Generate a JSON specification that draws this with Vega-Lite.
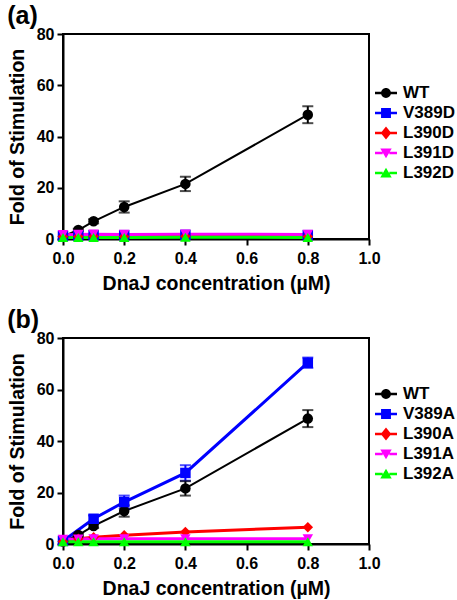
{
  "$schema": "https://vega.github.io/schema/vega-lite/v6.json",
  "background": "white",
  "padding": {"left": 6, "top": 3, "right": 0, "bottom": 0},
  "config": {
    "font": "Liberation Sans",
    "view": {"stroke": "black", "strokeWidth": 2},
    "axis": {
      "grid": false,
      "domainColor": "black", "domainWidth": 2,
      "tickColor": "black", "tickWidth": 2, "tickSize": 6,
      "labelFont": "Liberation Sans", "labelFontSize": 16, "labelFontWeight": "bold", "labelColor": "black", "labelPadding": 3, "labelFlush": false,
      "titleFont": "Liberation Sans", "titleFontSize": 19.5, "titleFontWeight": "bold", "titleColor": "black"
    },
    "axisX": {"labelPadding": 5, "titlePadding": 8},
    "legend": {
      "labelFont": "Liberation Sans", "labelFontSize": 17, "labelFontWeight": "bold", "labelColor": "black",
      "labelOffset": 6, "rowPadding": 1, "padding": 0, "symbolSize": 484, "symbolStrokeWidth": 0, "symbolOpacity": 1
    },
    "title": {"font": "Liberation Sans", "fontSize": 25, "fontWeight": "bold", "color": "black", "anchor": "start", "frame": "bounds"}
  },
  "datasets": {
    "a": [
      {"s": "WT", "x": 0, "y": 1.0},
      {"s": "WT", "x": 0.05, "y": 3.5, "lo": 3.0, "hi": 4.0},
      {"s": "WT", "x": 0.1, "y": 6.9, "lo": 6.1, "hi": 7.7},
      {"s": "WT", "x": 0.2, "y": 12.5, "lo": 10.3, "hi": 14.7},
      {"s": "WT", "x": 0.4, "y": 21.5, "lo": 18.7, "hi": 24.3},
      {"s": "WT", "x": 0.8, "y": 48.5, "lo": 45.2, "hi": 51.8},
      {"s": "V389D", "x": 0, "y": 1.2},
      {"s": "V389D", "x": 0.05, "y": 1.4},
      {"s": "V389D", "x": 0.1, "y": 1.5},
      {"s": "V389D", "x": 0.2, "y": 1.5},
      {"s": "V389D", "x": 0.4, "y": 1.6},
      {"s": "V389D", "x": 0.8, "y": 1.5},
      {"s": "L390D", "x": 0, "y": 1.0},
      {"s": "L390D", "x": 0.05, "y": 1.0},
      {"s": "L390D", "x": 0.1, "y": 1.1},
      {"s": "L390D", "x": 0.2, "y": 1.0},
      {"s": "L390D", "x": 0.4, "y": 1.1},
      {"s": "L390D", "x": 0.8, "y": 1.0},
      {"s": "L391D", "x": 0, "y": 1.7},
      {"s": "L391D", "x": 0.05, "y": 1.8},
      {"s": "L391D", "x": 0.1, "y": 1.9},
      {"s": "L391D", "x": 0.2, "y": 1.8},
      {"s": "L391D", "x": 0.4, "y": 1.9},
      {"s": "L391D", "x": 0.8, "y": 1.8},
      {"s": "L392D", "x": 0, "y": 0.6},
      {"s": "L392D", "x": 0.05, "y": 0.6},
      {"s": "L392D", "x": 0.1, "y": 0.6},
      {"s": "L392D", "x": 0.2, "y": 0.6},
      {"s": "L392D", "x": 0.4, "y": 0.7},
      {"s": "L392D", "x": 0.8, "y": 0.6}
    ],
    "b": [
      {"s": "WT", "x": 0, "y": 1.0},
      {"s": "WT", "x": 0.05, "y": 3.5, "lo": 3.0, "hi": 4.0},
      {"s": "WT", "x": 0.1, "y": 7.0, "lo": 6.2, "hi": 7.8},
      {"s": "WT", "x": 0.2, "y": 12.8, "lo": 10.6, "hi": 15.0},
      {"s": "WT", "x": 0.4, "y": 21.6, "lo": 18.8, "hi": 24.4},
      {"s": "WT", "x": 0.8, "y": 48.7, "lo": 45.4, "hi": 52.0},
      {"s": "V389A", "x": 0, "y": 1.2},
      {"s": "V389A", "x": 0.1, "y": 9.8, "lo": 8.5, "hi": 11.1},
      {"s": "V389A", "x": 0.2, "y": 16.3, "lo": 13.8, "hi": 18.8},
      {"s": "V389A", "x": 0.4, "y": 27.6, "lo": 24.6, "hi": 30.6},
      {"s": "V389A", "x": 0.8, "y": 70.4, "lo": 68.4, "hi": 72.4},
      {"s": "L390A", "x": 0, "y": 1.0},
      {"s": "L390A", "x": 0.05, "y": 2.0},
      {"s": "L390A", "x": 0.1, "y": 2.6},
      {"s": "L390A", "x": 0.2, "y": 3.4},
      {"s": "L390A", "x": 0.4, "y": 4.7},
      {"s": "L390A", "x": 0.8, "y": 6.5},
      {"s": "L391A", "x": 0, "y": 1.8},
      {"s": "L391A", "x": 0.05, "y": 1.9},
      {"s": "L391A", "x": 0.1, "y": 2.0},
      {"s": "L391A", "x": 0.2, "y": 2.0},
      {"s": "L391A", "x": 0.4, "y": 2.0},
      {"s": "L391A", "x": 0.8, "y": 2.0},
      {"s": "L392A", "x": 0, "y": 0.9},
      {"s": "L392A", "x": 0.05, "y": 0.9},
      {"s": "L392A", "x": 0.1, "y": 0.9},
      {"s": "L392A", "x": 0.2, "y": 0.9},
      {"s": "L392A", "x": 0.4, "y": 0.9},
      {"s": "L392A", "x": 0.8, "y": 0.9}
    ]
  },
  "spacing": 13,
  "resolve": {
    "scale": {"color": "independent", "shape": "independent"},
    "legend": {"color": "independent", "shape": "independent"}
  },
  "vconcat": [
    {
      "title": {"text": "(a)", "offset": -3},
      "width": 306, "height": 205,
      "data": {"name": "a"},
      "encoding": {
        "x": {"field": "x", "type": "quantitative", "scale": {"domain": [0, 1], "nice": false}, "axis": {"values": [0, 0.2, 0.4, 0.6, 0.8, 1.0], "format": ".1f", "title": "DnaJ concentration (µM)"}},
        "y": {"field": "y", "type": "quantitative", "scale": {"domain": [0, 80]}, "axis": {"values": [0, 20, 40, 60, 80], "title": "Fold of Stimulation", "titlePadding": 9}}
      },
      "layer": [
        {
          "mark": {"type": "line"},
          "encoding": {
            "detail": {"field": "s", "type": "nominal"},
            "color": {"condition": [
              {"test": "datum.s === 'WT'", "value": "#000000"},
              {"test": "indexof(datum.s, '389') >= 0", "value": "#0000ff"},
              {"test": "indexof(datum.s, '390') >= 0", "value": "#ff0000"},
              {"test": "indexof(datum.s, '391') >= 0", "value": "#ff00ff"}
            ], "value": "#00ff00"},
            "strokeWidth": {"condition": {"test": "datum.s === 'WT'", "value": 2}, "value": 3}
          }
        },
        {
          "transform": [{"filter": "isValid(datum.lo)"}],
          "mark": {"type": "rule", "strokeWidth": 2},
          "encoding": {
            "y": {"field": "lo", "type": "quantitative"},
            "y2": {"field": "hi"},
            "color": {"condition": {"test": "datum.s === 'WT'", "value": "#000000"}, "value": "#0000ff"}
          }
        },
        {
          "transform": [{"filter": "isValid(datum.lo)"}],
          "mark": {"type": "tick", "thickness": 2, "size": 11, "orient": "horizontal"},
          "encoding": {
            "y": {"field": "lo", "type": "quantitative"},
            "color": {"condition": {"test": "datum.s === 'WT'", "value": "#000000"}, "value": "#0000ff"}
          }
        },
        {
          "transform": [{"filter": "isValid(datum.lo)"}],
          "mark": {"type": "tick", "thickness": 2, "size": 11, "orient": "horizontal"},
          "encoding": {
            "y": {"field": "hi", "type": "quantitative"},
            "color": {"condition": {"test": "datum.s === 'WT'", "value": "#000000"}, "value": "#0000ff"}
          }
        },
        {
          "mark": {"type": "point", "filled": true, "opacity": 1, "size": 110},
          "encoding": {
            "color": {"condition": [
              {"test": "datum.s === 'WT'", "value": "#000000"},
              {"test": "indexof(datum.s, '389') >= 0", "value": "#0000ff"},
              {"test": "indexof(datum.s, '390') >= 0", "value": "#ff0000"},
              {"test": "indexof(datum.s, '391') >= 0", "value": "#ff00ff"}
            ], "value": "#00ff00"},
            "shape": {
              "condition": [
                {"test": "datum.s === 'WT'", "value": "circle"},
                {"test": "indexof(datum.s, '389') >= 0", "value": "square"},
                {"test": "indexof(datum.s, '390') >= 0", "value": "diamond"},
                {"test": "indexof(datum.s, '391') >= 0", "value": "triangle-down"}
              ],
              "value": "triangle-up"
            }
          }
        },
        {
          "transform": [{"filter": "datum.x > 5"}],
          "mark": {"type": "point", "filled": true, "opacity": 1, "size": 484},
          "encoding": {
            "color": {"field": "s", "type": "nominal", "legend": {"title": null, "orient": "none", "legendX": 312, "legendY": 48}, "scale": {"domain": ["WT", "V389D", "L390D", "L391D", "L392D"], "range": ["#000000", "#0000ff", "#ff0000", "#ff00ff", "#00ff00"]}},
            "shape": {"field": "s", "type": "nominal", "legend": {"title": null, "orient": "none", "legendX": 312, "legendY": 48}, "scale": {"domain": ["WT", "V389D", "L390D", "L391D", "L392D"], "range": [
              "M-1,-0.11L-0.3,-0.11L-0.3,0.11L-1,0.11ZM0.3,-0.11L1,-0.11L1,0.11L0.3,0.11ZM-0.45,0A0.45,0.45,0,1,1,0.45,0A0.45,0.45,0,1,1,-0.45,0Z",
              "M-1,-0.11L-0.3,-0.11L-0.3,0.11L-1,0.11ZM0.3,-0.11L1,-0.11L1,0.11L0.3,0.11ZM-0.45,-0.45L0.45,-0.45L0.45,0.45L-0.45,0.45Z",
              "M-1,-0.11L-0.3,-0.11L-0.3,0.11L-1,0.11ZM0.3,-0.11L1,-0.11L1,0.11L0.3,0.11ZM0,-0.58L0.48,0L0,0.58L-0.48,0Z",
              "M-1,-0.11L-0.3,-0.11L-0.3,0.11L-1,0.11ZM0.3,-0.11L1,-0.11L1,0.11L0.3,0.11ZM-0.52,-0.42L0.52,-0.42L0,0.48Z",
              "M-1,-0.11L-0.3,-0.11L-0.3,0.11L-1,0.11ZM0.3,-0.11L1,-0.11L1,0.11L0.3,0.11ZM0,-0.48L0.52,0.42L-0.52,0.42Z"
            ]}}
          }
        }
      ]
    },
    {
      "title": {"text": "(b)", "offset": -3},
      "width": 306, "height": 206,
      "data": {"name": "b"},
      "encoding": {
        "x": {"field": "x", "type": "quantitative", "scale": {"domain": [0, 1], "nice": false}, "axis": {"values": [0, 0.2, 0.4, 0.6, 0.8, 1.0], "format": ".1f", "title": "DnaJ concentration (µM)"}},
        "y": {"field": "y", "type": "quantitative", "scale": {"domain": [0, 80]}, "axis": {"values": [0, 20, 40, 60, 80], "title": "Fold of Stimulation", "titlePadding": 9}}
      },
      "layer": [
        {
          "mark": {"type": "line"},
          "encoding": {
            "detail": {"field": "s", "type": "nominal"},
            "color": {"condition": [
              {"test": "datum.s === 'WT'", "value": "#000000"},
              {"test": "indexof(datum.s, '389') >= 0", "value": "#0000ff"},
              {"test": "indexof(datum.s, '390') >= 0", "value": "#ff0000"},
              {"test": "indexof(datum.s, '391') >= 0", "value": "#ff00ff"}
            ], "value": "#00ff00"},
            "strokeWidth": {"condition": {"test": "datum.s === 'WT'", "value": 2}, "value": 3}
          }
        },
        {
          "transform": [{"filter": "isValid(datum.lo)"}],
          "mark": {"type": "rule", "strokeWidth": 2},
          "encoding": {
            "y": {"field": "lo", "type": "quantitative"},
            "y2": {"field": "hi"},
            "color": {"condition": {"test": "datum.s === 'WT'", "value": "#000000"}, "value": "#0000ff"}
          }
        },
        {
          "transform": [{"filter": "isValid(datum.lo)"}],
          "mark": {"type": "tick", "thickness": 2, "size": 11, "orient": "horizontal"},
          "encoding": {
            "y": {"field": "lo", "type": "quantitative"},
            "color": {"condition": {"test": "datum.s === 'WT'", "value": "#000000"}, "value": "#0000ff"}
          }
        },
        {
          "transform": [{"filter": "isValid(datum.lo)"}],
          "mark": {"type": "tick", "thickness": 2, "size": 11, "orient": "horizontal"},
          "encoding": {
            "y": {"field": "hi", "type": "quantitative"},
            "color": {"condition": {"test": "datum.s === 'WT'", "value": "#000000"}, "value": "#0000ff"}
          }
        },
        {
          "mark": {"type": "point", "filled": true, "opacity": 1, "size": 110},
          "encoding": {
            "color": {"condition": [
              {"test": "datum.s === 'WT'", "value": "#000000"},
              {"test": "indexof(datum.s, '389') >= 0", "value": "#0000ff"},
              {"test": "indexof(datum.s, '390') >= 0", "value": "#ff0000"},
              {"test": "indexof(datum.s, '391') >= 0", "value": "#ff00ff"}
            ], "value": "#00ff00"},
            "shape": {
              "condition": [
                {"test": "datum.s === 'WT'", "value": "circle"},
                {"test": "indexof(datum.s, '389') >= 0", "value": "square"},
                {"test": "indexof(datum.s, '390') >= 0", "value": "diamond"},
                {"test": "indexof(datum.s, '391') >= 0", "value": "triangle-down"}
              ],
              "value": "triangle-up"
            }
          }
        },
        {
          "transform": [{"filter": "datum.x > 5"}],
          "mark": {"type": "point", "filled": true, "opacity": 1, "size": 484},
          "encoding": {
            "color": {"field": "s", "type": "nominal", "legend": {"title": null, "orient": "none", "legendX": 312, "legendY": 45}, "scale": {"domain": ["WT", "V389A", "L390A", "L391A", "L392A"], "range": ["#000000", "#0000ff", "#ff0000", "#ff00ff", "#00ff00"]}},
            "shape": {"field": "s", "type": "nominal", "legend": {"title": null, "orient": "none", "legendX": 312, "legendY": 45}, "scale": {"domain": ["WT", "V389A", "L390A", "L391A", "L392A"], "range": [
              "M-1,-0.11L-0.3,-0.11L-0.3,0.11L-1,0.11ZM0.3,-0.11L1,-0.11L1,0.11L0.3,0.11ZM-0.45,0A0.45,0.45,0,1,1,0.45,0A0.45,0.45,0,1,1,-0.45,0Z",
              "M-1,-0.11L-0.3,-0.11L-0.3,0.11L-1,0.11ZM0.3,-0.11L1,-0.11L1,0.11L0.3,0.11ZM-0.45,-0.45L0.45,-0.45L0.45,0.45L-0.45,0.45Z",
              "M-1,-0.11L-0.3,-0.11L-0.3,0.11L-1,0.11ZM0.3,-0.11L1,-0.11L1,0.11L0.3,0.11ZM0,-0.58L0.48,0L0,0.58L-0.48,0Z",
              "M-1,-0.11L-0.3,-0.11L-0.3,0.11L-1,0.11ZM0.3,-0.11L1,-0.11L1,0.11L0.3,0.11ZM-0.52,-0.42L0.52,-0.42L0,0.48Z",
              "M-1,-0.11L-0.3,-0.11L-0.3,0.11L-1,0.11ZM0.3,-0.11L1,-0.11L1,0.11L0.3,0.11ZM0,-0.48L0.52,0.42L-0.52,0.42Z"
            ]}}
          }
        }
      ]
    }
  ]
}
